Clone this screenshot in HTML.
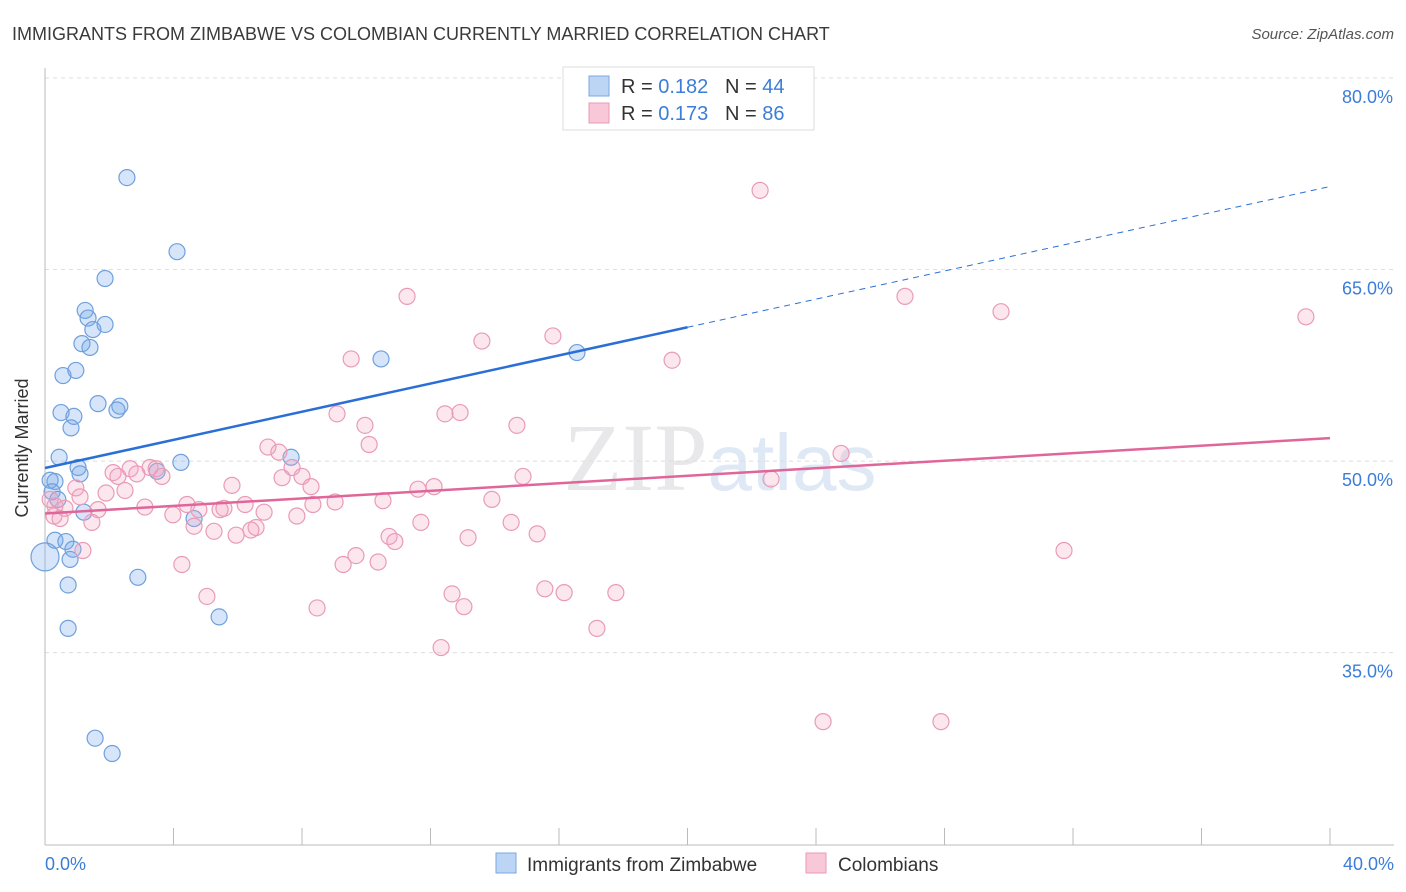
<!DOCTYPE html>
<html><head><meta charset="utf-8"><style>
body{margin:0;background:#fff;font-family:"Liberation Sans",sans-serif;}
svg{display:block}
</style></head><body>
<svg id="chart" width="1406" height="892">
<text x="12" y="40" font-size="18" fill="#3a3a3a">IMMIGRANTS FROM ZIMBABWE VS COLOMBIAN CURRENTLY MARRIED CORRELATION CHART</text>
<text x="1394" y="39" font-size="15" fill="#555" text-anchor="end" font-style="italic">Source: ZipAtlas.com</text>
<text x="720" y="490" font-size="96" fill="#e8e8ea" text-anchor="middle" font-family="Liberation Serif,serif">ZIP<tspan fill="#dfe8f5" font-family="Liberation Sans,sans-serif" font-size="80">atlas</tspan></text>
<g id="grid"></g><g id="axes"></g><g id="pts"></g><g id="lines"></g>
<text x="35" y="455" font-size="18" fill="#333" text-anchor="middle" transform="rotate(-90 28 455)">Currently Married</text>
<g>
<rect x="563" y="67" width="251" height="63" fill="#fff" stroke="#ddd"/>
<rect x="589" y="76" width="20" height="20" fill="#bcd5f5" stroke="#7aa8e0"/>
<rect x="589" y="103" width="20" height="20" fill="#f8c8d8" stroke="#e89ab5"/>
<text x="621" y="93" font-size="20" fill="#333">R = <tspan fill="#3b7dd8">0.182</tspan>  <tspan x="725">N = </tspan><tspan fill="#3b7dd8">44</tspan></text>
<text x="621" y="120" font-size="20" fill="#333">R = <tspan fill="#3b7dd8">0.173</tspan>  <tspan x="725">N = </tspan><tspan fill="#3b7dd8">86</tspan></text>
</g>
<g>
<rect x="496" y="853" width="20" height="20" fill="#bcd5f5" stroke="#7aa8e0"/>
<text x="527" y="871" font-size="19" fill="#333">Immigrants from Zimbabwe</text>
<rect x="806" y="853" width="20" height="20" fill="#f8c8d8" stroke="#e89ab5"/>
<text x="838" y="871" font-size="19" fill="#333">Colombians</text>
</g>
</svg>
<script>
const yTicks=[80,65,50,35];
const xTickLabels=["0.0%","40.0%"];
const blueX=[2.55,4.11,1.87,1.25,1.34,1.49,1.87,1.15,1.40,0.56,0.96,10.46,16.56,1.65,2.33,2.24,0.50,0.90,0.81,0.44,4.23,7.66,1.03,1.09,3.49,0.16,0.31,0.22,0.40,1.21,4.64,0.31,0.65,0.87,0.78,0.72,2.89,0.72,5.42,1.56,2.09,0];
const blueY=[72.2,66.4,64.3,61.8,61.2,60.3,60.7,59.2,58.9,56.7,57.1,58.0,58.5,54.5,54.3,54.0,53.8,53.5,52.6,50.3,49.9,50.3,49.5,49.0,49.2,48.5,48.4,47.6,47.0,46.0,45.5,43.8,43.7,43.1,42.3,40.3,40.9,36.9,37.8,28.3,27.1,42.5];
const pinkX=[22.26,11.27,26.77,29.76,39.25,15.81,13.60,9.53,19.52,9.09,12.45,12.92,14.69,9.96,10.09,24.78,6.94,7.28,7.69,22.60,8.00,7.38,14.88,2.12,2.65,3.27,3.46,3.64,2.27,2.86,2.49,1.90,1.09,8.28,5.82,11.61,12.11,13.91,10.52,9.03,8.34,3.11,3.98,4.42,4.79,5.45,5.57,6.23,6.82,7.84,1.65,0.62,0.28,0.47,1.46,4.64,5.26,6.57,6.41,5.95,11.70,14.51,10.71,10.89,13.17,15.32,1.18,4.26,9.68,10.37,9.28,31.72,15.56,16.16,17.77,5.04,12.67,13.04,8.47,17.18,12.33,24.22,27.89,0.96,0.31,0.16];
const pinkY=[71.2,62.9,62.9,61.7,61.3,59.8,59.4,58.0,57.9,53.7,53.7,53.8,52.8,52.8,51.3,50.6,51.1,50.7,49.5,48.6,48.8,48.7,48.8,49.1,49.4,49.5,49.4,48.8,48.8,49.0,47.7,47.5,47.2,48.0,48.1,47.8,48.0,47.0,46.9,46.8,46.6,46.4,45.8,46.6,46.2,46.2,46.3,46.6,46.0,45.7,46.2,46.3,45.7,45.5,45.2,44.9,44.5,44.8,44.6,44.2,45.2,45.2,44.1,43.7,44.0,44.3,43.0,41.9,42.6,42.1,41.9,43.0,40.0,39.7,39.7,39.4,39.6,38.6,38.5,36.9,35.4,29.6,29.6,47.9,46.5,47.0];
const blueTrend=[49.46,71.5];
const pinkTrend=[45.9,51.8];
const NS="http://www.w3.org/2000/svg";
const X=v=>45+v*32.125, Y=v=>78+(80-v)*12.77;
function mk(p,t,a){const e=document.createElementNS(NS,t);for(const k in a)e.setAttribute(k,a[k]);document.getElementById(p).appendChild(e);return e;}
yTicks.forEach(t=>{
 const g=mk('grid','line',{x1:45,x2:1394,y1:Y(t),y2:Y(t),stroke:'#ddd','stroke-dasharray':'4,4'});
 
 
 const l=mk('grid','text',{x:1393,y:Y(t)+25,'font-size':18,fill:'#3b7dd8','text-anchor':'end'});
 l.textContent=t.toFixed(1)+'%';
 
 
});
const ax=mk('axes','line',{x1:45,x2:45,y1:68,y2:845,stroke:'#bbb'});


const bx=mk('axes','line',{x1:45,x2:1394,y1:845,y2:845,stroke:'#bbb'});


for(let i=0;i<=10;i++){const t=mk('axes','line',{x1:X(i*4),x2:X(i*4),y1:828,y2:845,stroke:'#bbb'});
 
 }
[[0,'start',45],[40,'end',1394]].forEach((d,i)=>{const l=mk('axes','text',{x:d[2],y:870,'font-size':18,fill:'#3b7dd8','text-anchor':d[1]});
 l.textContent=xTickLabels[i];
 
 });
blueX.forEach((v,i)=>{const c=mk('pts','circle',{cx:X(v),cy:Y(blueY[i]),r:i==blueX.length-1?14:8,fill:'rgba(120,170,235,0.3)',stroke:'#6fa0dc','stroke-width':1.2});
 
 });
pinkX.forEach((v,i)=>{const c=mk('pts','circle',{cx:X(v),cy:Y(pinkY[i]),r:8,fill:'rgba(245,160,190,0.25)',stroke:'#e99bb6','stroke-width':1.2});
 
 });
const bm=blueTrend[0]+(blueTrend[1]-blueTrend[0])*0.5;
const b1=mk('lines','line',{x1:X(0),y1:Y(blueTrend[0]),x2:X(20),y2:Y(bm),stroke:'#2a6fd6','stroke-width':2.5});


const b2=mk('lines','line',{x1:X(20),y1:Y(bm),x2:X(40),y2:Y(blueTrend[1]),stroke:'#2a6fd6','stroke-width':1,'stroke-dasharray':'6,5'});


const p1=mk('lines','line',{x1:X(0),y1:Y(pinkTrend[0]),x2:X(40),y2:Y(pinkTrend[1]),stroke:'#e0669a','stroke-width':2.5});


</script>
</body></html>
